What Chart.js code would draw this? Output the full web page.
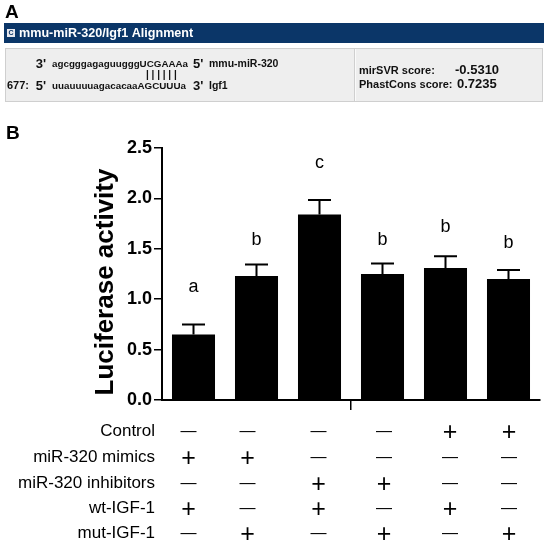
<!DOCTYPE html>
<html>
<head>
<meta charset="utf-8">
<script src="https://cdn.jsdelivr.net/npm/chart.js@4"></script>
<style>
html,body{margin:0;padding:0;background:#fff;}
#wrap{width:550px;height:544px;position:relative;}
canvas{display:block;}
</style>
</head>
<body>
<div id="wrap"><canvas id="c" width="550" height="544"></canvas></div>
<script>
// ---- data ----
const categories = ['mimics + wt-IGF-1','mimics + mut-IGF-1','inhibitors + wt-IGF-1','inhibitors + mut-IGF-1','control + wt-IGF-1','control + mut-IGF-1'];
const values = [0.65, 1.23, 1.84, 1.25, 1.31, 1.20];
const errors = [0.10, 0.115, 0.145, 0.105, 0.115, 0.09];
const letters = ['a','b','c','b','b','b'];
const letterY = [1.12, 1.59, 2.35, 1.59, 1.72, 1.56];
const yTicks = [0, 0.5, 1.0, 1.5, 2.0, 2.5];
const yTitle = 'Luciferase activity';
const rowLabels = ['Control','miR-320 mimics','miR-320 inhibitors','wt-IGF-1','mut-IGF-1'];
const rowControl    = ['-','-','-','-','+','+'];
const rowMimics     = ['+','+','-','-','-','-'];
const rowInhibitors = ['-','-','+','+','-','-'];
const rowWt         = ['+','-','+','-','+','-'];
const rowMut        = ['-','+','-','+','-','+'];
const rows = [rowControl, rowMimics, rowInhibitors, rowWt, rowMut];
const panelA = {
  header: 'mmu-miR-320/Igf1 Alignment',
  mirna: 'agcgggagaguugggUCGAAAa',
  target: 'uuauuuuagacacaaAGCUUUa',
  mirnaName: 'mmu-miR-320',
  targetName: 'Igf1',
  position: '677:',
  mirsvr: '-0.5310',
  phastcons: '0.7235'
};

const FONT = '"Liberation Sans", Arial, Helvetica, sans-serif';
// style: small horizontal nudges of the +/- table columns (px)
const colNudge = [-5, -9, -1, 1.5, 4.5, 0.5];

const drawExtras = {
  id: 'extras',
  beforeDraw(chart) {
    const ctx = chart.ctx;
    ctx.save();
    ctx.fillStyle = '#fff';
    ctx.fillRect(0, 0, chart.width, chart.height);
    // Panel letters
    ctx.fillStyle = '#000';
    ctx.textBaseline = 'alphabetic';
    ctx.textAlign = 'left';
    ctx.font = 'bold 19px ' + FONT;
    ctx.fillText('A', 5, 18);
    ctx.fillText('B', 6, 139);
    // header bar
    ctx.fillStyle = '#0b3668';
    ctx.fillRect(4, 23, 540, 20);
    // icon
    ctx.fillStyle = '#e8e8ee';
    ctx.fillRect(7, 29, 8, 8);
    ctx.fillStyle = '#0b3668';
    ctx.font = 'bold 7px ' + FONT;
    ctx.textAlign = 'center';
    ctx.textBaseline = 'middle';
    ctx.fillText('C', 11, 33.5);
    ctx.fillStyle = '#fff';
    ctx.font = 'bold 12.6px ' + FONT;
    ctx.textAlign = 'left';
    ctx.fillText(panelA.header, 19, 33.5);
    // gray box
    ctx.fillStyle = '#eeeeee';
    ctx.fillRect(5, 48, 538, 54);
    ctx.strokeStyle = '#cfcfcf';
    ctx.lineWidth = 1;
    ctx.strokeRect(5.5, 48.5, 537, 53);
    ctx.beginPath();
    ctx.moveTo(354.5, 49); ctx.lineTo(354.5, 101);
    ctx.stroke();
    ctx.strokeStyle = '#fafafa';
    ctx.beginPath();
    ctx.moveTo(355.5, 49); ctx.lineTo(355.5, 101);
    ctx.stroke();
    // alignment text
    ctx.fillStyle = '#111';
    ctx.textBaseline = 'middle';
    ctx.font = 'bold 13px ' + FONT;
    ctx.textAlign = 'right';
    ctx.fillText("3'", 46, 64);
    ctx.fillText("5'", 46, 86);
    ctx.textAlign = 'left';
    ctx.fillText("5'", 193, 64);
    ctx.fillText("3'", 193, 86);
    ctx.font = 'bold 11px ' + FONT;
    ctx.textAlign = 'right';
    ctx.fillText(panelA.position, 29, 86);
    ctx.textAlign = 'left';
    ctx.font = 'bold 9.8px ' + FONT;
    ctx.fillText(panelA.mirna, 52, 64);
    ctx.fillText(panelA.target, 52, 86);
    ctx.font = 'bold 10px ' + FONT;
    ctx.fillText('| | | | | |', 146, 75);
    ctx.font = 'bold 10.5px ' + FONT;
    ctx.fillText(panelA.mirnaName, 209, 64);
    ctx.fillText(panelA.targetName, 209, 86);
    ctx.font = 'bold 11px ' + FONT;
    ctx.fillText('mirSVR score:', 359, 71);
    ctx.fillText('PhastCons score:', 359, 85);
    ctx.font = 'bold 13px ' + FONT;
    ctx.fillText(panelA.mirsvr, 455, 70);
    ctx.fillText(panelA.phastcons, 457, 84);
    ctx.restore();
  },
  afterDatasetsDraw(chart) {
    const ctx = chart.ctx;
    const xs = chart.scales.x, ys = chart.scales.y;
    ctx.save();
    // error bars
    ctx.strokeStyle = '#000';
    ctx.lineWidth = 2;
    values.forEach((v, i) => {
      const x = xs.getPixelForValue(i);
      const y0 = ys.getPixelForValue(v);
      const y1 = ys.getPixelForValue(v + errors[i]);
      ctx.beginPath();
      ctx.moveTo(x, y0); ctx.lineTo(x, y1);
      ctx.moveTo(x - 11.5, y1); ctx.lineTo(x + 11.5, y1);
      ctx.stroke();
    });
    // significance letters
    ctx.fillStyle = '#000';
    ctx.font = '18px ' + FONT;
    ctx.textAlign = 'center';
    ctx.textBaseline = 'middle';
    letters.forEach((l, i) => {
      ctx.fillText(l, xs.getPixelForValue(i), ys.getPixelForValue(letterY[i]));
    });
    // y-axis title
    ctx.save();
    ctx.translate(106, (ys.top + ys.bottom) / 2 + 8);
    ctx.rotate(-Math.PI / 2);
    ctx.font = 'bold 26px ' + FONT;
    ctx.fillText(yTitle, 0, 0);
    ctx.restore();
    // table
    const rowY = [432, 458, 484, 509, 534];
    ctx.font = '17px ' + FONT;
    ctx.textAlign = 'right';
    rowLabels.forEach((lab, r) => ctx.fillText(lab, 155, rowY[r] - 1));
    ctx.textAlign = 'center';
    rows.forEach((row, r) => {
      row.forEach((s, i) => {
        const x = xs.getPixelForValue(i) + colNudge[i];
        if (s === '+') {
          ctx.font = '25px ' + FONT;
          ctx.fillText('+', x, rowY[r] + 1);
        } else {
          ctx.font = '16px ' + FONT;
          ctx.fillText('\u2014', x, rowY[r]);
        }
      });
    });
    ctx.restore();
  }
};

new Chart(document.getElementById('c'), {
  type: 'bar',
  data: {
    labels: categories,
    datasets: [{
      data: values,
      backgroundColor: '#000',
      borderWidth: 0,
      barPercentage: 0.683,
      categoryPercentage: 1.0
    }]
  },
  options: {
    responsive: false,
    devicePixelRatio: 1,
    animation: false,
    layout: { padding: { top: 148, right: 10, bottom: 144, left: 0 } },
    plugins: { legend: { display: false }, tooltip: { enabled: false } },
    scales: {
      x: {
        offset: true,
        ticks: { display: false },
        grid: {
          offset: true,
          drawOnChartArea: false,
          tickLength: 10,
          lineWidth: 1.5,
          tickColor: (c) => c.index === 3 ? '#000' : 'rgba(0,0,0,0)'
        },
        border: { display: true, color: '#000', width: 2 },
        afterFit: (s) => { s.height = 0; }
      },
      y: {
        min: 0, max: 2.5,
        afterBuildTicks: (s) => { s.ticks = yTicks.map(v => ({ value: v })); },
        ticks: {
          color: '#000',
          padding: 2,
          font: { family: FONT, size: 18, weight: 'bold' },
          callback: (v) => Number(v).toFixed(1)
        },
        grid: { drawOnChartArea: false, tickLength: 8, color: '#000', lineWidth: 1.5 },
        border: { display: true, color: '#000', width: 2 },
        title: { display: false },
        afterFit: (s) => { s.width = 162; }
      }
    }
  },
  plugins: [drawExtras]
});
</script>
</body>
</html>
